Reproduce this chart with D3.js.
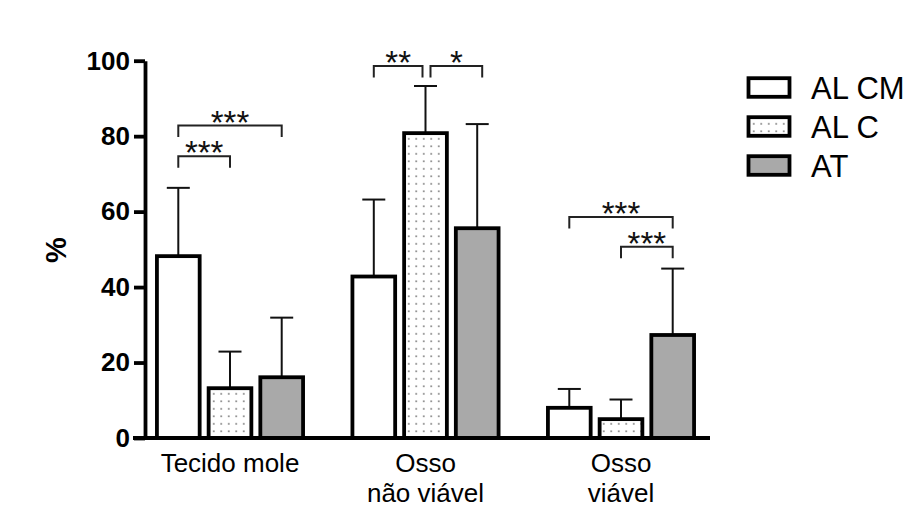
<!DOCTYPE html>
<html>
<head>
<meta charset="utf-8">
<script src="https://cdn.jsdelivr.net/npm/d3@7"></script>
<style>
  html, body { margin: 0; padding: 0; background: #fff; }
  svg { display: block; font-family: "Liberation Sans", Arial, sans-serif; }
</style>
</head>
<body>
<svg id="chart" width="917" height="523"></svg>
<script>
// Groups on the x axis (multi-line labels)
const categories = ["Tecido mole", "Osso não viável", "Osso viável"];
const categoryLines = [["Tecido mole"], ["Osso", "não viável"], ["Osso", "viável"]];
const series = ["AL CM", "AL C", "AT"];

// Mean (%) per series, one entry per category
const meanALCM = [48.2, 42.8, 8.0];
const meanALC  = [13.2, 80.8, 5.0];
const meanAT   = [16.1, 55.6, 27.3];

// Upper error (SD) per series
const sdALCM = [18.1, 20.4, 5.0];
const sdALC  = [9.7, 12.5, 5.2];
const sdAT   = [15.8, 27.6, 17.6];

const yTicks = [0, 20, 40, 60, 80, 100];

// Significance brackets: category, series pair, bracket level (%), label
const sigCategory = [0, 0, 1, 1, 2, 2];
const sigFrom     = [0, 0, 0, 1, 0, 1];
const sigTo       = [1, 2, 1, 2, 2, 2];
const sigLevel    = [74.7, 82.8, 98.6, 98.6, 58.6, 50.7];
const sigLabel    = ["***", "***", "**", "*", "***", "***"];

const means = [meanALCM, meanALC, meanAT];
const sds = [sdALCM, sdALC, sdAT];

const svg = d3.select("#chart");
svg.append("rect").attr("width", 917).attr("height", 523).attr("fill", "#fff");

// dotted fill for the AL C series
const defs = svg.append("defs");
const pat = defs.append("pattern")
  .attr("id", "dots")
  .attr("patternUnits", "userSpaceOnUse")
  .attr("width", 7.5).attr("height", 7.5);
pat.append("rect").attr("width", 7.5).attr("height", 7.5).attr("fill", "#fff");
pat.append("circle").attr("cx", 3.75).attr("cy", 3.75).attr("r", 0.8).attr("fill", "#3a3a3a");

const fills = ["#ffffff", "url(#dots)", "#a9a9a9"];
const heavy = 3.8;

const y = d3.scaleLinear().domain([0, 100]).range([438, 60.7]);

const x0 = d3.scaleBand()
  .domain(categories)
  .range([132.25, 718.75])
  .paddingInner(0.233)
  .paddingOuter(0.1165);

const x1 = d3.scaleBand()
  .domain(series)
  .range([0, x0.bandwidth()])
  .paddingInner(0.1);

const barCenter = (ci, si) => x0(categories[ci]) + x1(series[si]) + x1.bandwidth() / 2;

// bars
const barData = [];
categories.forEach((c, ci) => {
  series.forEach((s, si) => {
    barData.push({ ci, si, v: means[si][ci], e: sds[si][ci] });
  });
});

const g = svg.append("g");

// error bars (upper only)
g.selectAll(".err")
  .data(barData)
  .join("g")
  .attr("class", "err")
  .each(function (d) {
    const cx = barCenter(d.ci, d.si);
    const sel = d3.select(this);
    sel.append("line")
      .attr("x1", cx).attr("x2", cx)
      .attr("y1", y(d.v)).attr("y2", y(d.v + d.e))
      .attr("stroke", "#111").attr("stroke-width", 2);
    sel.append("line")
      .attr("x1", cx - 11.5).attr("x2", cx + 11.5)
      .attr("y1", y(d.v + d.e)).attr("y2", y(d.v + d.e))
      .attr("stroke", "#111").attr("stroke-width", 2);
  });

g.selectAll(".bar")
  .data(barData)
  .join("rect")
  .attr("class", "bar")
  .attr("x", d => x0(categories[d.ci]) + x1(series[d.si]) + heavy / 2)
  .attr("width", x1.bandwidth() - heavy)
  .attr("y", d => y(d.v))
  .attr("height", d => y(0) - y(d.v))
  .attr("fill", d => fills[d.si])
  .attr("stroke", "#000")
  .attr("stroke-width", heavy);

// baseline
svg.append("line")
  .attr("x1", 133).attr("x2", 710)
  .attr("y1", y(0)).attr("y2", y(0))
  .attr("stroke", "#000").attr("stroke-width", heavy);

// y axis
const yAxis = svg.append("g")
  .attr("transform", "translate(145,0)")
  .call(d3.axisLeft(y).tickValues(yTicks).tickSize(11).tickSizeOuter(0).tickPadding(4));
yAxis.select(".domain").attr("stroke", "#000").attr("stroke-width", heavy);
yAxis.selectAll(".tick line").attr("stroke", "#000").attr("stroke-width", heavy);
yAxis.selectAll(".tick text")
  .attr("fill", "#000")
  .attr("font-size", 26)
  .attr("font-weight", "bold")
  .attr("font-family", "'Liberation Sans', Arial, sans-serif");

// y title
svg.append("text")
  .attr("transform", "translate(66,250) rotate(-90)")
  .attr("text-anchor", "middle")
  .attr("font-size", 29)
  .attr("font-weight", "bold")
  .attr("fill", "#000")
  .text("%");

// category labels
categoryLines.forEach((lines, ci) => {
  const cx = x0(categories[ci]) + x0.bandwidth() / 2;
  const t = svg.append("text")
    .attr("text-anchor", "middle")
    .attr("font-size", 26)
    .attr("fill", "#000");
  lines.forEach((ln, li) => {
    t.append("tspan").attr("x", cx).attr("y", 471.7 + li * 30).text(ln);
  });
});

// significance brackets
sigLabel.forEach((lab, i) => {
  const ci = sigCategory[i];
  let xa = barCenter(ci, sigFrom[i]);
  let xb = barCenter(ci, sigTo[i]);
  // adjacent brackets sharing a bar leave a small gap
  const shared = sigLevel.some((lv, j) => j !== i && sigCategory[j] === ci && lv === sigLevel[i]);
  if (shared) {
    if (sigTo[i] === 1) xb -= 3;
    if (sigFrom[i] === 1) { xa += 5; xb += 5; }
  }
  const yl = y(sigLevel[i]);
  const leg = 11.5;
  svg.append("path")
    .attr("d", `M${xa},${yl + leg}V${yl}H${xb}V${yl + leg}`)
    .attr("fill", "none")
    .attr("stroke", "#222")
    .attr("stroke-width", 2);
  svg.append("text")
    .attr("x", (xa + xb) / 2)
    .attr("y", yl + 8)
    .attr("text-anchor", "middle")
    .attr("font-size", 33)
    .attr("fill", "#111")
    .text(lab);
});

// legend
const legend = svg.append("g");
series.forEach((s, si) => {
  const cy = 87.5 + si * 39;
  legend.append("rect")
    .attr("x", 748.5).attr("y", cy - 9.3)
    .attr("width", 41).attr("height", 18.6)
    .attr("fill", fills[si])
    .attr("stroke", "#000").attr("stroke-width", heavy);
  legend.append("text")
    .attr("x", 811).attr("y", cy + 11.3)
    .attr("font-size", 31)
    .attr("fill", "#000")
    .text(s);
});
</script>
</body>
</html>
